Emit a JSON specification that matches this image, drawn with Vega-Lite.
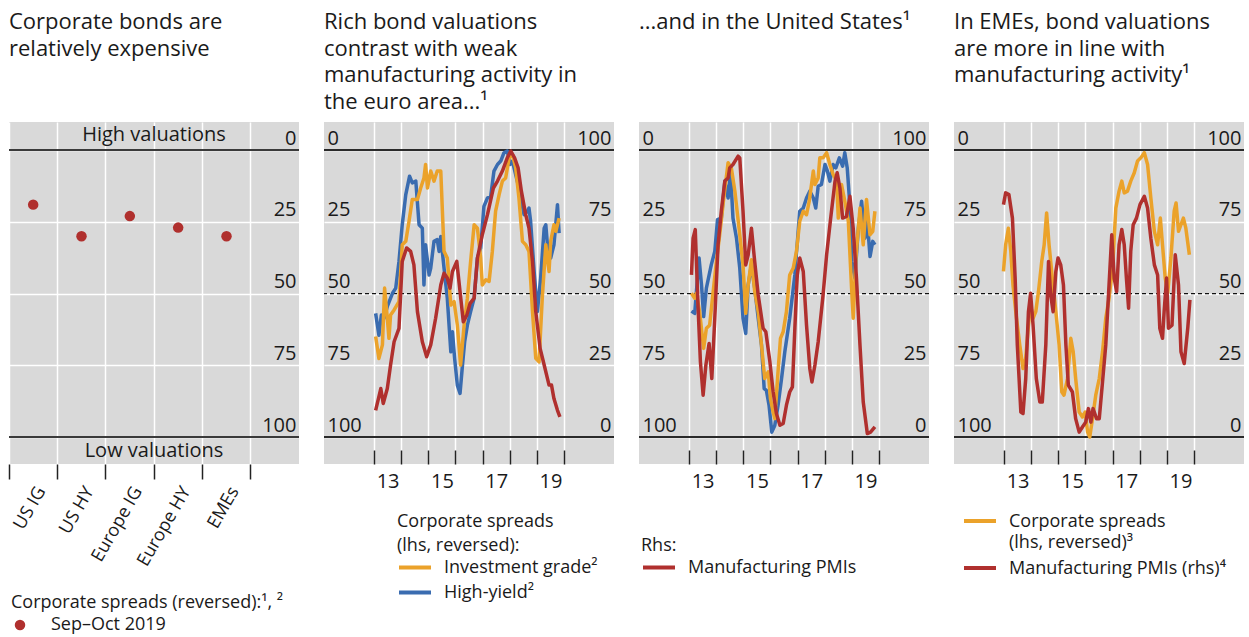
{
"$schema": "https://vega.github.io/schema/vega-lite/v6.json",
"padding": {"left": 8, "top": 10, "right": 0, "bottom": 0},
"autosize": {"type": "pad"},
"spacing": 25,
"bounds": "flush",
"config": {
  "font": "Open Sans",
  "view": {"stroke": null, "fill": "#d9d9d9"},
  "axis": {"labelFont": "Open Sans", "labelFontSize": 20, "labelColor": "#1a1a1a", "gridColor": "#ffffff", "gridWidth": 1.5, "gridOpacity": 1, "domain": false, "labelFlush": false, "labelOverlap": false},
  "legend": {"labelFont": "Open Sans", "labelFontSize": 18, "titleFont": "Open Sans", "titleFontSize": 18, "titleFontWeight": "normal", "labelColor": "#1a1a1a", "titleColor": "#1a1a1a", "labelLimit": 400, "titleLimit": 400, "padding": 0},
  "title": {"anchor": "start", "frame": "group", "font": "Open Sans", "fontSize": 22, "fontWeight": "normal", "color": "#1a1a1a", "lineHeight": 26.7, "baseline": "top", "offset": 8},
  "style": {"guide-label": {"lineHeight": 21}}
},
"datasets": {
  "p1": [
    {"cat": "US IG", "v": 19.0, "period": "Sep–Oct 2019"},
    {"cat": "US HY", "v": 30.0, "period": "Sep–Oct 2019"},
    {"cat": "Europe IG", "v": 23.0, "period": "Sep–Oct 2019"},
    {"cat": "Europe HY", "v": 27.0, "period": "Sep–Oct 2019"},
    {"cat": "EMEs", "v": 30.0, "period": "Sep–Oct 2019"}
  ],
  "ann": [
    {"cat": "Europe HY", "v": -5.2, "label": "High valuations"},
    {"cat": "Europe HY", "v": 104.8, "label": "Low valuations"}
  ],
  "edges": [{"r": 0}, {"r": 100}],
  "mid": [{"r": 50}],
  "ea": [
    {"k":"HY","t":2013.06,"v":56.9},{"k":"HY","t":2013.18,"v":64.5},{"k":"HY","t":2013.27,"v":57.5},{"k":"HY","t":2013.37,"v":58.6},{"k":"HY","t":2013.49,"v":54.5},{"k":"HY","t":2013.68,"v":49.9},{"k":"HY","t":2013.80,"v":48.1},{"k":"HY","t":2013.92,"v":38.8},{"k":"HY","t":2014.04,"v":26.0},{"k":"HY","t":2014.17,"v":15.5},{"k":"HY","t":2014.31,"v":9.1},{"k":"HY","t":2014.41,"v":11.4},{"k":"HY","t":2014.54,"v":10.8},{"k":"HY","t":2014.66,"v":26.0},{"k":"HY","t":2014.78,"v":27.2},{"k":"HY","t":2014.84,"v":47.0},{"k":"HY","t":2014.90,"v":33.0},{"k":"HY","t":2015.03,"v":43.5},{"k":"HY","t":2015.09,"v":41.1},{"k":"HY","t":2015.21,"v":31.8},{"k":"HY","t":2015.33,"v":31.2},{"k":"HY","t":2015.40,"v":35.3},{"k":"HY","t":2015.46,"v":30.1},{"k":"HY","t":2015.58,"v":41.1},{"k":"HY","t":2015.70,"v":51.6},{"k":"HY","t":2015.83,"v":70.3},{"k":"HY","t":2015.89,"v":63.3},{"k":"HY","t":2015.97,"v":72.6},{"k":"HY","t":2016.07,"v":81.9},{"k":"HY","t":2016.17,"v":84.8},{"k":"HY","t":2016.26,"v":74.9},{"k":"HY","t":2016.34,"v":66.8},{"k":"HY","t":2016.44,"v":61.0},{"k":"HY","t":2016.56,"v":56.3},{"k":"HY","t":2016.69,"v":51.6},{"k":"HY","t":2016.81,"v":37.6},{"k":"HY","t":2016.93,"v":34.1},{"k":"HY","t":2017.05,"v":19.6},{"k":"HY","t":2017.18,"v":16.7},{"k":"HY","t":2017.30,"v":16.1},{"k":"HY","t":2017.42,"v":7.3},{"k":"HY","t":2017.55,"v":5.0},{"k":"HY","t":2017.67,"v":3.8},{"k":"HY","t":2017.79,"v":0.9},{"k":"HY","t":2017.91,"v":0.3},{"k":"HY","t":2018.01,"v":5.0},{"k":"HY","t":2018.10,"v":3.8},{"k":"HY","t":2018.22,"v":8.5},{"k":"HY","t":2018.34,"v":13.2},{"k":"HY","t":2018.41,"v":16.7},{"k":"HY","t":2018.53,"v":22.5},{"k":"HY","t":2018.65,"v":21.3},{"k":"HY","t":2018.71,"v":20.2},{"k":"HY","t":2018.77,"v":24.8},{"k":"HY","t":2018.90,"v":42.3},{"k":"HY","t":2019.02,"v":56.3},{"k":"HY","t":2019.14,"v":44.6},{"k":"HY","t":2019.27,"v":27.2},{"k":"HY","t":2019.33,"v":26.0},{"k":"HY","t":2019.39,"v":33.0},{"k":"HY","t":2019.51,"v":37.6},{"k":"HY","t":2019.63,"v":33.0},{"k":"HY","t":2019.76,"v":19.0},{"k":"HY","t":2019.82,"v":28.9},
    {"k":"IG","t":2013.06,"v":65.0},{"k":"IG","t":2013.18,"v":72.6},{"k":"IG","t":2013.31,"v":67.9},{"k":"IG","t":2013.39,"v":48.1},{"k":"IG","t":2013.49,"v":58.6},{"k":"IG","t":2013.55,"v":65.6},{"k":"IG","t":2013.61,"v":57.5},{"k":"IG","t":2013.74,"v":55.7},{"k":"IG","t":2013.92,"v":52.8},{"k":"IG","t":2014.04,"v":33.0},{"k":"IG","t":2014.17,"v":31.8},{"k":"IG","t":2014.29,"v":24.8},{"k":"IG","t":2014.41,"v":17.2},{"k":"IG","t":2014.60,"v":17.2},{"k":"IG","t":2014.72,"v":13.2},{"k":"IG","t":2014.84,"v":9.7},{"k":"IG","t":2014.90,"v":5.0},{"k":"IG","t":2014.97,"v":13.2},{"k":"IG","t":2015.09,"v":7.3},{"k":"IG","t":2015.21,"v":10.8},{"k":"IG","t":2015.33,"v":7.3},{"k":"IG","t":2015.46,"v":7.3},{"k":"IG","t":2015.58,"v":35.3},{"k":"IG","t":2015.70,"v":37.6},{"k":"IG","t":2015.83,"v":54.0},{"k":"IG","t":2015.95,"v":52.8},{"k":"IG","t":2016.07,"v":61.0},{"k":"IG","t":2016.19,"v":74.9},{"k":"IG","t":2016.32,"v":61.0},{"k":"IG","t":2016.44,"v":51.6},{"k":"IG","t":2016.56,"v":38.8},{"k":"IG","t":2016.69,"v":26.0},{"k":"IG","t":2016.81,"v":27.2},{"k":"IG","t":2016.93,"v":37.6},{"k":"IG","t":2016.99,"v":47.0},{"k":"IG","t":2017.12,"v":45.2},{"k":"IG","t":2017.24,"v":45.8},{"k":"IG","t":2017.36,"v":35.3},{"k":"IG","t":2017.48,"v":21.3},{"k":"IG","t":2017.61,"v":15.5},{"k":"IG","t":2017.73,"v":10.8},{"k":"IG","t":2017.85,"v":9.7},{"k":"IG","t":2017.98,"v":2.7},{"k":"IG","t":2018.10,"v":1.5},{"k":"IG","t":2018.22,"v":6.2},{"k":"IG","t":2018.34,"v":16.7},{"k":"IG","t":2018.47,"v":31.8},{"k":"IG","t":2018.59,"v":33.0},{"k":"IG","t":2018.71,"v":35.3},{"k":"IG","t":2018.84,"v":56.3},{"k":"IG","t":2018.96,"v":72.6},{"k":"IG","t":2019.08,"v":73.8},{"k":"IG","t":2019.20,"v":51.6},{"k":"IG","t":2019.33,"v":33.0},{"k":"IG","t":2019.45,"v":42.3},{"k":"IG","t":2019.51,"v":31.8},{"k":"IG","t":2019.63,"v":26.0},{"k":"IG","t":2019.70,"v":28.3},{"k":"IG","t":2019.82,"v":23.7},
    {"k":"PMI","t":2013.06,"v":9.3},{"k":"PMI","t":2013.25,"v":16.9},{"k":"PMI","t":2013.34,"v":11.7},{"k":"PMI","t":2013.49,"v":16.9},{"k":"PMI","t":2013.61,"v":25.1},{"k":"PMI","t":2013.74,"v":33.2},{"k":"PMI","t":2013.92,"v":37.9},{"k":"PMI","t":2014.04,"v":61.2},{"k":"PMI","t":2014.20,"v":65.9},{"k":"PMI","t":2014.35,"v":64.7},{"k":"PMI","t":2014.47,"v":60.0},{"k":"PMI","t":2014.60,"v":43.7},{"k":"PMI","t":2014.78,"v":33.2},{"k":"PMI","t":2014.94,"v":28.0},{"k":"PMI","t":2015.09,"v":32.1},{"k":"PMI","t":2015.27,"v":41.4},{"k":"PMI","t":2015.46,"v":53.0},{"k":"PMI","t":2015.58,"v":57.1},{"k":"PMI","t":2015.70,"v":55.4},{"k":"PMI","t":2015.80,"v":51.9},{"k":"PMI","t":2015.89,"v":57.7},{"k":"PMI","t":2016.05,"v":61.2},{"k":"PMI","t":2016.17,"v":50.7},{"k":"PMI","t":2016.29,"v":40.2},{"k":"PMI","t":2016.42,"v":42.5},{"k":"PMI","t":2016.54,"v":46.6},{"k":"PMI","t":2016.69,"v":48.4},{"k":"PMI","t":2016.81,"v":62.4},{"k":"PMI","t":2016.99,"v":70.5},{"k":"PMI","t":2017.18,"v":77.5},{"k":"PMI","t":2017.40,"v":86.8},{"k":"PMI","t":2017.55,"v":89.2},{"k":"PMI","t":2017.73,"v":92.7},{"k":"PMI","t":2017.91,"v":97.3},{"k":"PMI","t":2018.04,"v":99.7},{"k":"PMI","t":2018.18,"v":97.3},{"k":"PMI","t":2018.31,"v":93.8},{"k":"PMI","t":2018.43,"v":85.7},{"k":"PMI","t":2018.59,"v":77.5},{"k":"PMI","t":2018.71,"v":72.8},{"k":"PMI","t":2018.84,"v":61.2},{"k":"PMI","t":2018.96,"v":43.7},{"k":"PMI","t":2019.12,"v":30.9},{"k":"PMI","t":2019.27,"v":25.1},{"k":"PMI","t":2019.45,"v":18.1},{"k":"PMI","t":2019.54,"v":18.1},{"k":"PMI","t":2019.63,"v":13.4},{"k":"PMI","t":2019.76,"v":9.3},{"k":"PMI","t":2019.85,"v":7.0}
  ],
  "us": [
    {"k":"HY","t":2013.09,"v":56.1},{"k":"HY","t":2013.21,"v":56.9},{"k":"HY","t":2013.37,"v":37.6},{"k":"HY","t":2013.46,"v":47.0},{"k":"HY","t":2013.54,"v":58.0},{"k":"HY","t":2013.64,"v":48.1},{"k":"HY","t":2013.82,"v":40.0},{"k":"HY","t":2013.95,"v":35.3},{"k":"HY","t":2014.05,"v":24.2},{"k":"HY","t":2014.19,"v":23.7},{"k":"HY","t":2014.32,"v":10.8},{"k":"HY","t":2014.44,"v":16.7},{"k":"HY","t":2014.53,"v":7.9},{"k":"HY","t":2014.62,"v":23.7},{"k":"HY","t":2014.75,"v":30.7},{"k":"HY","t":2014.87,"v":41.1},{"k":"HY","t":2014.99,"v":58.6},{"k":"HY","t":2015.09,"v":63.9},{"k":"HY","t":2015.18,"v":47.0},{"k":"HY","t":2015.30,"v":40.0},{"k":"HY","t":2015.42,"v":48.1},{"k":"HY","t":2015.55,"v":58.6},{"k":"HY","t":2015.67,"v":67.9},{"k":"HY","t":2015.77,"v":83.1},{"k":"HY","t":2015.85,"v":83.7},{"k":"HY","t":2015.95,"v":89.0},{"k":"HY","t":2016.05,"v":98.3},{"k":"HY","t":2016.16,"v":96.0},{"k":"HY","t":2016.28,"v":89.0},{"k":"HY","t":2016.41,"v":79.6},{"k":"HY","t":2016.53,"v":70.3},{"k":"HY","t":2016.71,"v":58.6},{"k":"HY","t":2016.90,"v":43.5},{"k":"HY","t":2017.08,"v":21.3},{"k":"HY","t":2017.21,"v":20.2},{"k":"HY","t":2017.33,"v":16.7},{"k":"HY","t":2017.45,"v":14.3},{"k":"HY","t":2017.58,"v":16.7},{"k":"HY","t":2017.67,"v":20.2},{"k":"HY","t":2017.76,"v":12.6},{"k":"HY","t":2017.88,"v":12.0},{"k":"HY","t":2018.01,"v":5.0},{"k":"HY","t":2018.10,"v":7.3},{"k":"HY","t":2018.19,"v":10.8},{"k":"HY","t":2018.31,"v":5.0},{"k":"HY","t":2018.41,"v":6.2},{"k":"HY","t":2018.54,"v":2.7},{"k":"HY","t":2018.66,"v":5.6},{"k":"HY","t":2018.74,"v":0.9},{"k":"HY","t":2018.83,"v":6.2},{"k":"HY","t":2018.90,"v":15.5},{"k":"HY","t":2019.00,"v":38.8},{"k":"HY","t":2019.11,"v":44.6},{"k":"HY","t":2019.24,"v":27.2},{"k":"HY","t":2019.36,"v":17.8},{"k":"HY","t":2019.48,"v":30.7},{"k":"HY","t":2019.57,"v":24.8},{"k":"HY","t":2019.67,"v":37.1},{"k":"HY","t":2019.77,"v":31.8},{"k":"HY","t":2019.85,"v":33.0},
    {"k":"IG","t":2013.09,"v":49.9},{"k":"IG","t":2013.21,"v":51.6},{"k":"IG","t":2013.27,"v":49.9},{"k":"IG","t":2013.39,"v":56.3},{"k":"IG","t":2013.54,"v":69.1},{"k":"IG","t":2013.64,"v":62.1},{"k":"IG","t":2013.76,"v":61.0},{"k":"IG","t":2013.89,"v":49.3},{"k":"IG","t":2014.01,"v":38.8},{"k":"IG","t":2014.13,"v":29.5},{"k":"IG","t":2014.28,"v":16.7},{"k":"IG","t":2014.44,"v":4.4},{"k":"IG","t":2014.56,"v":6.2},{"k":"IG","t":2014.69,"v":14.3},{"k":"IG","t":2014.87,"v":29.5},{"k":"IG","t":2014.99,"v":40.0},{"k":"IG","t":2015.09,"v":56.9},{"k":"IG","t":2015.18,"v":47.0},{"k":"IG","t":2015.30,"v":38.2},{"k":"IG","t":2015.42,"v":49.3},{"k":"IG","t":2015.55,"v":56.3},{"k":"IG","t":2015.67,"v":67.9},{"k":"IG","t":2015.79,"v":79.6},{"k":"IG","t":2015.92,"v":77.3},{"k":"IG","t":2016.00,"v":86.6},{"k":"IG","t":2016.10,"v":91.3},{"k":"IG","t":2016.16,"v":93.6},{"k":"IG","t":2016.28,"v":77.3},{"k":"IG","t":2016.37,"v":65.6},{"k":"IG","t":2016.47,"v":63.3},{"k":"IG","t":2016.59,"v":56.3},{"k":"IG","t":2016.71,"v":43.5},{"k":"IG","t":2016.84,"v":41.1},{"k":"IG","t":2016.96,"v":35.3},{"k":"IG","t":2017.08,"v":24.8},{"k":"IG","t":2017.21,"v":21.3},{"k":"IG","t":2017.33,"v":22.5},{"k":"IG","t":2017.43,"v":17.8},{"k":"IG","t":2017.58,"v":7.3},{"k":"IG","t":2017.64,"v":12.0},{"k":"IG","t":2017.76,"v":9.7},{"k":"IG","t":2017.82,"v":2.7},{"k":"IG","t":2017.94,"v":2.7},{"k":"IG","t":2018.07,"v":0.9},{"k":"IG","t":2018.19,"v":5.0},{"k":"IG","t":2018.31,"v":8.5},{"k":"IG","t":2018.44,"v":10.8},{"k":"IG","t":2018.50,"v":23.7},{"k":"IG","t":2018.62,"v":12.0},{"k":"IG","t":2018.74,"v":17.8},{"k":"IG","t":2018.87,"v":24.8},{"k":"IG","t":2018.99,"v":48.1},{"k":"IG","t":2019.05,"v":58.6},{"k":"IG","t":2019.15,"v":37.6},{"k":"IG","t":2019.30,"v":20.2},{"k":"IG","t":2019.42,"v":33.0},{"k":"IG","t":2019.54,"v":17.2},{"k":"IG","t":2019.67,"v":29.5},{"k":"IG","t":2019.77,"v":28.3},{"k":"IG","t":2019.85,"v":21.3},
    {"k":"PMI","t":2013.09,"v":56.5},{"k":"PMI","t":2013.15,"v":69.3},{"k":"PMI","t":2013.23,"v":72.3},{"k":"PMI","t":2013.33,"v":46.0},{"k":"PMI","t":2013.42,"v":26.2},{"k":"PMI","t":2013.52,"v":14.6},{"k":"PMI","t":2013.62,"v":25.0},{"k":"PMI","t":2013.74,"v":32.6},{"k":"PMI","t":2013.84,"v":20.4},{"k":"PMI","t":2013.95,"v":41.4},{"k":"PMI","t":2014.07,"v":67.0},{"k":"PMI","t":2014.19,"v":78.7},{"k":"PMI","t":2014.32,"v":89.2},{"k":"PMI","t":2014.44,"v":90.3},{"k":"PMI","t":2014.50,"v":93.8},{"k":"PMI","t":2014.62,"v":95.0},{"k":"PMI","t":2014.81,"v":97.9},{"k":"PMI","t":2014.87,"v":97.3},{"k":"PMI","t":2014.99,"v":78.7},{"k":"PMI","t":2015.09,"v":60.0},{"k":"PMI","t":2015.18,"v":63.5},{"k":"PMI","t":2015.30,"v":72.8},{"k":"PMI","t":2015.42,"v":61.2},{"k":"PMI","t":2015.55,"v":49.5},{"k":"PMI","t":2015.73,"v":37.9},{"k":"PMI","t":2015.83,"v":36.7},{"k":"PMI","t":2015.98,"v":26.2},{"k":"PMI","t":2016.10,"v":15.7},{"k":"PMI","t":2016.22,"v":8.2},{"k":"PMI","t":2016.35,"v":4.1},{"k":"PMI","t":2016.47,"v":4.7},{"k":"PMI","t":2016.59,"v":11.1},{"k":"PMI","t":2016.71,"v":15.7},{"k":"PMI","t":2016.81,"v":17.5},{"k":"PMI","t":2016.90,"v":37.9},{"k":"PMI","t":2016.99,"v":56.5},{"k":"PMI","t":2017.08,"v":62.4},{"k":"PMI","t":2017.21,"v":57.7},{"k":"PMI","t":2017.33,"v":39.0},{"k":"PMI","t":2017.45,"v":23.9},{"k":"PMI","t":2017.53,"v":19.2},{"k":"PMI","t":2017.64,"v":25.1},{"k":"PMI","t":2017.76,"v":33.2},{"k":"PMI","t":2017.94,"v":49.5},{"k":"PMI","t":2018.07,"v":63.5},{"k":"PMI","t":2018.22,"v":76.3},{"k":"PMI","t":2018.38,"v":89.2},{"k":"PMI","t":2018.46,"v":92.1},{"k":"PMI","t":2018.56,"v":86.8},{"k":"PMI","t":2018.66,"v":76.3},{"k":"PMI","t":2018.80,"v":76.9},{"k":"PMI","t":2018.93,"v":83.9},{"k":"PMI","t":2019.05,"v":72.8},{"k":"PMI","t":2019.17,"v":55.4},{"k":"PMI","t":2019.30,"v":32.0},{"k":"PMI","t":2019.42,"v":12.2},{"k":"PMI","t":2019.57,"v":1.2},{"k":"PMI","t":2019.69,"v":1.7},{"k":"PMI","t":2019.85,"v":3.5}
  ],
  "em": [
    {"k":"CS","t":2012.98,"v":42.3},{"k":"CS","t":2013.06,"v":33.0},{"k":"CS","t":2013.16,"v":27.2},{"k":"CS","t":2013.25,"v":35.3},{"k":"CS","t":2013.33,"v":47.0},{"k":"CS","t":2013.46,"v":58.6},{"k":"CS","t":2013.58,"v":67.9},{"k":"CS","t":2013.70,"v":76.1},{"k":"CS","t":2013.80,"v":72.6},{"k":"CS","t":2013.90,"v":61.0},{"k":"CS","t":2013.98,"v":54.0},{"k":"CS","t":2014.07,"v":58.6},{"k":"CS","t":2014.17,"v":56.3},{"k":"CS","t":2014.27,"v":49.3},{"k":"CS","t":2014.39,"v":38.8},{"k":"CS","t":2014.48,"v":33.0},{"k":"CS","t":2014.57,"v":21.9},{"k":"CS","t":2014.66,"v":33.0},{"k":"CS","t":2014.78,"v":44.6},{"k":"CS","t":2014.91,"v":56.3},{"k":"CS","t":2015.03,"v":67.9},{"k":"CS","t":2015.13,"v":84.3},{"k":"CS","t":2015.21,"v":85.4},{"k":"CS","t":2015.34,"v":79.6},{"k":"CS","t":2015.46,"v":65.6},{"k":"CS","t":2015.55,"v":70.3},{"k":"CS","t":2015.64,"v":79.6},{"k":"CS","t":2015.77,"v":91.3},{"k":"CS","t":2015.89,"v":93.0},{"k":"CS","t":2015.99,"v":91.3},{"k":"CS","t":2016.08,"v":98.3},{"k":"CS","t":2016.16,"v":100.0},{"k":"CS","t":2016.26,"v":93.6},{"k":"CS","t":2016.38,"v":85.4},{"k":"CS","t":2016.51,"v":79.6},{"k":"CS","t":2016.63,"v":70.3},{"k":"CS","t":2016.75,"v":58.6},{"k":"CS","t":2016.87,"v":51.6},{"k":"CS","t":2017.00,"v":41.1},{"k":"CS","t":2017.12,"v":20.2},{"k":"CS","t":2017.24,"v":14.3},{"k":"CS","t":2017.34,"v":10.8},{"k":"CS","t":2017.43,"v":14.9},{"k":"CS","t":2017.55,"v":14.3},{"k":"CS","t":2017.67,"v":10.8},{"k":"CS","t":2017.80,"v":7.9},{"k":"CS","t":2017.92,"v":3.8},{"k":"CS","t":2018.04,"v":2.7},{"k":"CS","t":2018.17,"v":0.9},{"k":"CS","t":2018.29,"v":5.0},{"k":"CS","t":2018.41,"v":16.7},{"k":"CS","t":2018.54,"v":28.3},{"k":"CS","t":2018.66,"v":33.0},{"k":"CS","t":2018.76,"v":23.7},{"k":"CS","t":2018.84,"v":33.0},{"k":"CS","t":2018.94,"v":44.6},{"k":"CS","t":2019.03,"v":49.9},{"k":"CS","t":2019.15,"v":37.6},{"k":"CS","t":2019.27,"v":21.3},{"k":"CS","t":2019.34,"v":18.4},{"k":"CS","t":2019.43,"v":28.3},{"k":"CS","t":2019.52,"v":26.0},{"k":"CS","t":2019.61,"v":23.7},{"k":"CS","t":2019.70,"v":27.2},{"k":"CS","t":2019.83,"v":36.5},
    {"k":"PMI","t":2012.98,"v":81.0},{"k":"PMI","t":2013.06,"v":85.1},{"k":"PMI","t":2013.18,"v":84.5},{"k":"PMI","t":2013.31,"v":76.3},{"k":"PMI","t":2013.41,"v":55.4},{"k":"PMI","t":2013.49,"v":32.1},{"k":"PMI","t":2013.62,"v":8.7},{"k":"PMI","t":2013.70,"v":8.2},{"k":"PMI","t":2013.80,"v":20.4},{"k":"PMI","t":2013.90,"v":43.7},{"k":"PMI","t":2013.98,"v":50.1},{"k":"PMI","t":2014.07,"v":39.0},{"k":"PMI","t":2014.19,"v":20.4},{"k":"PMI","t":2014.32,"v":12.2},{"k":"PMI","t":2014.41,"v":12.2},{"k":"PMI","t":2014.54,"v":32.1},{"k":"PMI","t":2014.64,"v":61.2},{"k":"PMI","t":2014.72,"v":49.5},{"k":"PMI","t":2014.81,"v":43.7},{"k":"PMI","t":2014.91,"v":57.7},{"k":"PMI","t":2014.99,"v":62.4},{"k":"PMI","t":2015.09,"v":60.0},{"k":"PMI","t":2015.19,"v":53.0},{"k":"PMI","t":2015.28,"v":32.1},{"k":"PMI","t":2015.37,"v":18.1},{"k":"PMI","t":2015.52,"v":15.7},{"k":"PMI","t":2015.64,"v":6.4},{"k":"PMI","t":2015.77,"v":1.7},{"k":"PMI","t":2015.89,"v":3.5},{"k":"PMI","t":2016.01,"v":5.2},{"k":"PMI","t":2016.11,"v":9.9},{"k":"PMI","t":2016.20,"v":5.2},{"k":"PMI","t":2016.28,"v":9.9},{"k":"PMI","t":2016.41,"v":6.4},{"k":"PMI","t":2016.51,"v":6.4},{"k":"PMI","t":2016.63,"v":19.2},{"k":"PMI","t":2016.75,"v":32.1},{"k":"PMI","t":2016.87,"v":53.0},{"k":"PMI","t":2016.97,"v":70.5},{"k":"PMI","t":2017.06,"v":55.4},{"k":"PMI","t":2017.15,"v":50.7},{"k":"PMI","t":2017.24,"v":67.0},{"k":"PMI","t":2017.34,"v":72.3},{"k":"PMI","t":2017.43,"v":67.0},{"k":"PMI","t":2017.51,"v":55.4},{"k":"PMI","t":2017.59,"v":44.9},{"k":"PMI","t":2017.67,"v":64.7},{"k":"PMI","t":2017.76,"v":74.0},{"k":"PMI","t":2017.88,"v":76.3},{"k":"PMI","t":2018.01,"v":81.0},{"k":"PMI","t":2018.17,"v":83.9},{"k":"PMI","t":2018.29,"v":79.8},{"k":"PMI","t":2018.41,"v":69.3},{"k":"PMI","t":2018.54,"v":60.0},{"k":"PMI","t":2018.66,"v":56.5},{"k":"PMI","t":2018.74,"v":37.9},{"k":"PMI","t":2018.84,"v":34.4},{"k":"PMI","t":2018.90,"v":43.7},{"k":"PMI","t":2018.99,"v":55.4},{"k":"PMI","t":2019.06,"v":37.9},{"k":"PMI","t":2019.19,"v":39.0},{"k":"PMI","t":2019.31,"v":63.5},{"k":"PMI","t":2019.43,"v":53.0},{"k":"PMI","t":2019.52,"v":29.7},{"k":"PMI","t":2019.64,"v":25.6},{"k":"PMI","t":2019.77,"v":37.9},{"k":"PMI","t":2019.85,"v":47.8}
  ]
},
"resolve": {"scale": {"color": "independent"}, "legend": {"color": "independent"}},
"hconcat": [
  {
    "width": 290, "height": 342,
    "title": {"text": ["Corporate bonds are", "relatively expensive", " ", " "]},
    "layer": [
      {"data": {"name": "edges"}, "mark": {"type": "rule", "color": "#3a3a3a", "strokeWidth": 2},
       "encoding": {"y": {"field": "r", "type": "quantitative"}}},
      {"data": {"name": "p1"}, "mark": {"type": "point", "filled": true, "size": 110, "opacity": 1},
       "encoding": {
         "x": {"field": "cat", "type": "nominal", "sort": null,
               "scale": {"type": "band", "domain": ["US IG", "US HY", "Europe IG", "Europe HY", "EMEs", " "], "paddingInner": 0, "paddingOuter": 0},
               "axis": {"title": null, "bandPosition": 0, "grid": true, "ticks": true, "tickSize": 15, "tickColor": "#222222", "tickWidth": 1.5, "labelAngle": -60, "labelFontSize": 18, "labelAlign": "right", "labelBaseline": "middle", "labelOffset": 8.5, "labelPadding": 9}},
         "y": {"field": "v", "type": "quantitative",
               "scale": {"domain": [-9.8, 109.4], "reverse": true, "nice": false, "zero": false},
               "axis": {"title": null, "orient": "right", "values": [0, 25, 50, 75, 100], "grid": true, "ticks": false, "tickSize": 0, "labelAlign": "right", "labelPadding": -3, "labelBaseline": "alphabetic", "labelOffset": -6}},
         "color": {"field": "period", "type": "nominal", "scale": {"range": ["#b0302e"]},
               "legend": {"title": "Corporate spreads (reversed):¹, ²", "orient": "none", "legendX": 2, "legendY": 472, "symbolType": "circle", "symbolSize": 110, "labelOffset": 22, "titlePadding": 4}}
       }},
      {"data": {"name": "ann"}, "mark": {"type": "text", "fontSize": 20, "color": "#1a1a1a", "baseline": "middle", "align": "center"},
       "encoding": {
         "x": {"field": "cat", "type": "nominal", "bandPosition": 0},
         "y": {"field": "v", "type": "quantitative"},
         "text": {"field": "label"}
       }}
    ]
  },
  {
    "width": 290, "height": 342,
    "title": {"text": ["Rich bond valuations", "contrast with weak", "manufacturing activity in", "the euro area...¹"]},
    "layer": [
      {"data": {"name": "edges"}, "mark": {"type": "rule", "color": "#2a2a2a", "strokeWidth": 2},
       "encoding": {"y": {"field": "r", "type": "quantitative", "scale": {"domain": [-9.8, 109.4], "reverse": true, "nice": false, "zero": false}, "axis": null}}},
      {"data": {"name": "mid"}, "mark": {"type": "rule", "color": "#111111", "strokeWidth": 1.2, "strokeDash": [4, 3]},
       "encoding": {"y": {"field": "r", "type": "quantitative", "scale": {"domain": [-9.8, 109.4], "reverse": true, "nice": false, "zero": false}, "axis": null}}},
      {"data": {"name": "ea"}, "transform": [{"filter": "datum.k != 'PMI'"}],
       "mark": {"type": "line", "strokeWidth": 3.5, "strokeJoin": "round"},
       "encoding": {
         "x": {"field": "t", "type": "quantitative", "scale": {"domain": [2011.157, 2021.843], "nice": false, "zero": false},
               "axis": {"title": null, "values": [2013, 2014, 2015, 2016, 2017, 2018, 2019, 2020], "grid": true, "ticks": true, "tickSize": 14, "tickColor": "#222222", "tickWidth": 1.5, "offset": -14, "labelExpr": "datum.value % 2 == 1 ? format(datum.value - 2000, 'd') : ''", "labelOffset": 13.6, "labelPadding": 7, "labelBaseline": "top"}},
         "y": {"field": "v", "type": "quantitative", "scale": {"domain": [-9.8, 109.4], "reverse": true, "nice": false, "zero": false},
               "axis": {"title": null, "orient": "left", "values": [0, 25, 50, 75, 100], "grid": true, "ticks": false, "tickSize": 0, "labelAlign": "left", "labelPadding": -3, "labelBaseline": "alphabetic", "labelOffset": -6}},
         "color": {"field": "k", "type": "nominal", "scale": {"domain": ["HY", "IG", "PMI"], "range": ["#3a6cb0", "#eba22a", "#b0302e"]},
               "legend": {"title": ["Corporate spreads", "(lhs, reversed):"], "values": ["IG", "HY"], "labelExpr": "datum.label == 'IG' ? 'Investment grade²' : datum.label == 'HY' ? 'High-yield²' : 'Manufacturing PMIs'", "orient": "none", "legendX": 73, "legendY": 391, "symbolType": "stroke", "symbolSize": 1024, "symbolStrokeWidth": 4, "clipHeight": 25, "rowPadding": 0, "titlePadding": 0, "titleLineHeight": 24, "labelOffset": 11}}
       }},
      {"data": {"name": "ea"}, "transform": [{"filter": "datum.k == 'PMI'"}],
       "mark": {"type": "line", "strokeWidth": 3.5, "strokeJoin": "round"},
       "encoding": {
         "x": {"field": "t", "type": "quantitative"},
         "y": {"field": "v", "type": "quantitative", "scale": {"domain": [-9.4, 109.8], "nice": false, "zero": false},
               "axis": {"title": null, "orient": "right", "values": [0, 25, 50, 75, 100], "grid": false, "ticks": false, "tickSize": 0, "labelAlign": "right", "labelPadding": -3, "labelBaseline": "alphabetic", "labelOffset": -6}},
         "color": {"field": "k", "type": "nominal"}
       }}
    ],
    "resolve": {"scale": {"y": "independent"}}
  },
  {
    "width": 290, "height": 342,
    "title": {"text": ["...and in the United States¹", " ", " ", " "]},
    "layer": [
      {"data": {"name": "edges"}, "mark": {"type": "rule", "color": "#2a2a2a", "strokeWidth": 2},
       "encoding": {"y": {"field": "r", "type": "quantitative", "scale": {"domain": [-9.8, 109.4], "reverse": true, "nice": false, "zero": false}, "axis": null}}},
      {"data": {"name": "mid"}, "mark": {"type": "rule", "color": "#111111", "strokeWidth": 1.2, "strokeDash": [4, 3]},
       "encoding": {"y": {"field": "r", "type": "quantitative", "scale": {"domain": [-9.8, 109.4], "reverse": true, "nice": false, "zero": false}, "axis": null}}},
      {"data": {"name": "us"}, "transform": [{"filter": "datum.k != 'PMI'"}],
       "mark": {"type": "line", "strokeWidth": 3.5, "strokeJoin": "round"},
       "encoding": {
         "x": {"field": "t", "type": "quantitative", "scale": {"domain": [2011.157, 2021.843], "nice": false, "zero": false},
               "axis": {"title": null, "values": [2013, 2014, 2015, 2016, 2017, 2018, 2019, 2020], "grid": true, "ticks": true, "tickSize": 14, "tickColor": "#222222", "tickWidth": 1.5, "offset": -14, "labelExpr": "datum.value % 2 == 1 ? format(datum.value - 2000, 'd') : ''", "labelOffset": 13.6, "labelPadding": 7, "labelBaseline": "top"}},
         "y": {"field": "v", "type": "quantitative", "scale": {"domain": [-9.8, 109.4], "reverse": true, "nice": false, "zero": false},
               "axis": {"title": null, "orient": "left", "values": [0, 25, 50, 75, 100], "grid": true, "ticks": false, "tickSize": 0, "labelAlign": "left", "labelPadding": -3, "labelBaseline": "alphabetic", "labelOffset": -6}},
         "color": {"field": "k", "type": "nominal", "scale": {"domain": ["HY", "IG", "PMI"], "range": ["#3a6cb0", "#eba22a", "#b0302e"]},
               "legend": {"title": "Rhs:", "values": ["PMI"], "labelExpr": "'Manufacturing PMIs'", "orient": "none", "legendX": 2, "legendY": 415, "symbolType": "stroke", "symbolSize": 1024, "symbolStrokeWidth": 4, "clipHeight": 25, "rowPadding": 0, "titlePadding": 0, "labelOffset": 11}}
       }},
      {"data": {"name": "us"}, "transform": [{"filter": "datum.k == 'PMI'"}],
       "mark": {"type": "line", "strokeWidth": 3.5, "strokeJoin": "round"},
       "encoding": {
         "x": {"field": "t", "type": "quantitative"},
         "y": {"field": "v", "type": "quantitative", "scale": {"domain": [-9.4, 109.8], "nice": false, "zero": false},
               "axis": {"title": null, "orient": "right", "values": [0, 25, 50, 75, 100], "grid": false, "ticks": false, "tickSize": 0, "labelAlign": "right", "labelPadding": -3, "labelBaseline": "alphabetic", "labelOffset": -6}},
         "color": {"field": "k", "type": "nominal"}
       }}
    ],
    "resolve": {"scale": {"y": "independent"}}
  },
  {
    "width": 290, "height": 342,
    "title": {"text": ["In EMEs, bond valuations", "are more in line with", "manufacturing activity¹", " "]},
    "layer": [
      {"data": {"name": "edges"}, "mark": {"type": "rule", "color": "#2a2a2a", "strokeWidth": 2},
       "encoding": {"y": {"field": "r", "type": "quantitative", "scale": {"domain": [-9.8, 109.4], "reverse": true, "nice": false, "zero": false}, "axis": null}}},
      {"data": {"name": "mid"}, "mark": {"type": "rule", "color": "#111111", "strokeWidth": 1.2, "strokeDash": [4, 3]},
       "encoding": {"y": {"field": "r", "type": "quantitative", "scale": {"domain": [-9.8, 109.4], "reverse": true, "nice": false, "zero": false}, "axis": null}}},
      {"data": {"name": "em"}, "transform": [{"filter": "datum.k != 'PMI'"}],
       "mark": {"type": "line", "strokeWidth": 3.5, "strokeJoin": "round"},
       "encoding": {
         "x": {"field": "t", "type": "quantitative", "scale": {"domain": [2011.157, 2021.843], "nice": false, "zero": false},
               "axis": {"title": null, "values": [2013, 2014, 2015, 2016, 2017, 2018, 2019, 2020], "grid": true, "ticks": true, "tickSize": 14, "tickColor": "#222222", "tickWidth": 1.5, "offset": -14, "labelExpr": "datum.value % 2 == 1 ? format(datum.value - 2000, 'd') : ''", "labelOffset": 13.6, "labelPadding": 7, "labelBaseline": "top"}},
         "y": {"field": "v", "type": "quantitative", "scale": {"domain": [-9.8, 109.4], "reverse": true, "nice": false, "zero": false},
               "axis": {"title": null, "orient": "left", "values": [0, 25, 50, 75, 100], "grid": true, "ticks": false, "tickSize": 0, "labelAlign": "left", "labelPadding": -3, "labelBaseline": "alphabetic", "labelOffset": -6}},
         "color": {"field": "k", "type": "nominal", "scale": {"domain": ["CS", "PMI"], "range": ["#eba22a", "#b0302e"]},
               "legend": {"title": null, "labelExpr": "datum.label == 'CS' ? ['Corporate spreads', '(lhs, reversed)³'] : 'Manufacturing PMIs (rhs)⁴'", "orient": "none", "legendX": 8, "legendY": 383, "symbolType": "stroke", "symbolSize": 1024, "symbolStrokeWidth": 4, "clipHeight": 32, "rowPadding": 0, "labelOffset": 11, "labelBaseline": "alphabetic", "encode": {"labels": {"update": {"dy": {"value": 6}}}}}}
       }},
      {"data": {"name": "em"}, "transform": [{"filter": "datum.k == 'PMI'"}],
       "mark": {"type": "line", "strokeWidth": 3.5, "strokeJoin": "round"},
       "encoding": {
         "x": {"field": "t", "type": "quantitative"},
         "y": {"field": "v", "type": "quantitative", "scale": {"domain": [-9.4, 109.8], "nice": false, "zero": false},
               "axis": {"title": null, "orient": "right", "values": [0, 25, 50, 75, 100], "grid": false, "ticks": false, "tickSize": 0, "labelAlign": "right", "labelPadding": -3, "labelBaseline": "alphabetic", "labelOffset": -6}},
         "color": {"field": "k", "type": "nominal"}
       }}
    ],
    "resolve": {"scale": {"y": "independent"}}
  }
]
}
